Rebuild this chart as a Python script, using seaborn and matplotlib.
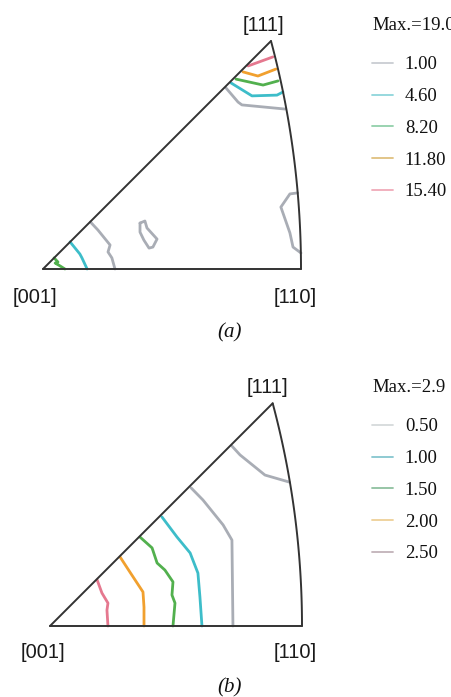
import numpy as np
import pandas as pd
import matplotlib
matplotlib.use("Agg")
import matplotlib.pyplot as plt
from matplotlib.lines import Line2D
import seaborn as sns

sns.set_style("white")

# contour vertices, in units of the [001]-[110] edge length (stereographic IPF)
# panel (a)
a_pink = [(0.795, 0.787), (0.891, 0.822)]
a_orange = [(0.775, 0.764), (0.833, 0.748), (0.903, 0.775)]
a_green = [(0.748, 0.736), (0.853, 0.713), (0.911, 0.729)]
a_cyan = [(0.729, 0.721), (0.810, 0.671), (0.907, 0.674), (0.930, 0.686)]
a_gray_top = [(0.709, 0.702), (0.756, 0.647), (0.771, 0.636), (0.938, 0.620)]
a_gray_right = [(0.987, 0.295), (0.957, 0.291), (0.922, 0.240), (0.957, 0.140),
                (0.969, 0.085), (1.000, 0.062)]
a_gray_blob = [(0.376, 0.178), (0.395, 0.186), (0.403, 0.159), (0.442, 0.116),
               (0.426, 0.085), (0.411, 0.081), (0.391, 0.112), (0.376, 0.143),
               (0.376, 0.178)]
a_gray_low = [(0.184, 0.182), (0.213, 0.151), (0.260, 0.093), (0.252, 0.066),
              (0.267, 0.043), (0.279, 0.0)]
a_cyan_low = [(0.105, 0.105), (0.143, 0.058), (0.151, 0.043), (0.171, 0.0)]
a_green_low = [(0.043, 0.043), (0.058, 0.027), (0.047, 0.023), (0.066, 0.012),
               (0.085, 0.0)]

# panel (b)
b_pink = [(0.187, 0.183), (0.206, 0.131), (0.230, 0.091), (0.226, 0.063), (0.230, 0.0)]
b_orange = [(0.278, 0.274), (0.325, 0.202), (0.369, 0.135), (0.373, 0.075), (0.373, 0.0)]
b_green = [(0.357, 0.353), (0.405, 0.310), (0.425, 0.250), (0.456, 0.222),
           (0.488, 0.175), (0.484, 0.123), (0.496, 0.091), (0.488, 0.0)]
b_cyan = [(0.444, 0.433), (0.504, 0.353), (0.556, 0.290), (0.587, 0.210),
          (0.595, 0.115), (0.603, 0.0)]
b_gray_mid = [(0.560, 0.548), (0.607, 0.500), (0.687, 0.401), (0.722, 0.341),
              (0.726, 0.0)]
b_gray_top = [(0.722, 0.714), (0.754, 0.679), (0.853, 0.599), (0.950, 0.571)]

GRAY, CYAN, GREEN, ORANGE, PINK = "#a9adb5", "#3dbdc9", "#52b04e", "#f1a02e", "#e5788f"

a_lines = [(a_pink, PINK), (a_orange, ORANGE), (a_green, GREEN), (a_cyan, CYAN),
           (a_gray_top, GRAY), (a_gray_right, GRAY), (a_gray_blob, GRAY),
           (a_gray_low, GRAY), (a_cyan_low, CYAN), (a_green_low, GREEN)]
b_lines = [(b_pink, PINK), (b_orange, ORANGE), (b_green, GREEN), (b_cyan, CYAN),
           (b_gray_mid, GRAY), (b_gray_top, GRAY)]

# legends
a_max = "Max.=19.0"
a_levels = ["1.00", "4.60", "8.20", "11.80", "15.40"]
a_level_colors = ["#c9cdd2", "#8fd6db", "#92d0aa", "#dfc07f", "#f0aab9"]
b_max = "Max.=2.9"
b_levels = ["0.50", "1.00", "1.50", "2.00", "2.50"]
b_level_colors = ["#d6dadb", "#86c6cf", "#8fc09f", "#eed097", "#c1b2b9"]

W, H = 452, 697
fig = plt.figure(figsize=(W / 100, H / 100), dpi=100)
fig.patch.set_facecolor("white")

# stereographic IPF: [001]=(0,0), [101]=(1,0), [111]=(0.884,0.884)
t = np.tan(np.pi / 8)
apex = 0.366 / t
R0, RR = -1 / t, np.sqrt(2) / t


def triangle(ax):
    ax.plot([0, 1], [0, 0], color="#333333", lw=1.4)
    ax.plot([0, apex], [0, apex], color="#333333", lw=1.4)
    vv = np.linspace(0, apex, 100)
    uu = R0 + np.sqrt(RR ** 2 - vv ** 2)
    ax.plot(uu, vv, color="#333333", lw=1.4)


def panel(rect, ox, oy, scale, lines):
    # rect in pixels: (left, top, right, bottom)
    l, tp, r, b = rect
    ax = fig.add_axes([l / W, 1 - b / H, (r - l) / W, (b - tp) / H])
    ax.set_xlim((l - ox) / scale, (r - ox) / scale)
    ax.set_ylim((oy - b) / scale, (oy - tp) / scale)
    ax.axis("off")
    for pts, c in lines:
        df = pd.DataFrame(pts, columns=["u", "v"])
        sns.lineplot(data=df, x="u", y="v", sort=False, estimator=None,
                     color=c, lw=2.0, ax=ax)
    triangle(ax)
    return ax


lab = dict(family="Liberation Sans", fontsize=14.5, color="#1a1a1a",
           ha="center", va="center")

ax_a = panel((0, 0, 360, 345), 43, 269, 258, a_lines)
ax_a.text(0.856, 0.945, "[111]", **lab)
ax_a.text(-0.031, -0.112, "[001]", **lab)
ax_a.text(0.977, -0.112, "[110]", **lab)

ax_b = panel((0, 350, 360, 697), 50, 626, 252, b_lines)
ax_b.text(0.861, 0.948, "[111]", **lab)
ax_b.text(-0.028, -0.107, "[001]", **lab)
ax_b.text(0.972, -0.107, "[110]", **lab)

cap = dict(family="Liberation Serif", style="italic", fontsize=15,
           ha="center", va="center", color="#111111")
fig.text(230 / W, 1 - 333 / H, "(a)", **cap)
fig.text(230 / W, 1 - 688 / H, "(b)", **cap)


def legend(title, labels, colors, x, y):
    handles = [Line2D([], [], color=c, lw=1.3) for c in colors]
    leg = fig.legend(handles, labels, title=title, loc="upper left",
                     bbox_to_anchor=(x / W, 1 - y / H), frameon=False,
                     prop=dict(family="Liberation Serif", size=13.5),
                     title_fontproperties=dict(family="Liberation Serif", size=13.5),
                     alignment="left", handlelength=1.1, handletextpad=0.65,
                     labelspacing=0.78, borderpad=0, borderaxespad=0)
    leg._legend_box.sep = 16
    for txt in leg.get_texts():
        txt.set_color("#111111")
    leg.get_title().set_color("#111111")


legend(a_max, a_levels, a_level_colors, 372, 17)
legend(b_max, b_levels, b_level_colors, 372, 379)

fig.savefig("out.png", dpi=100, facecolor="white")
